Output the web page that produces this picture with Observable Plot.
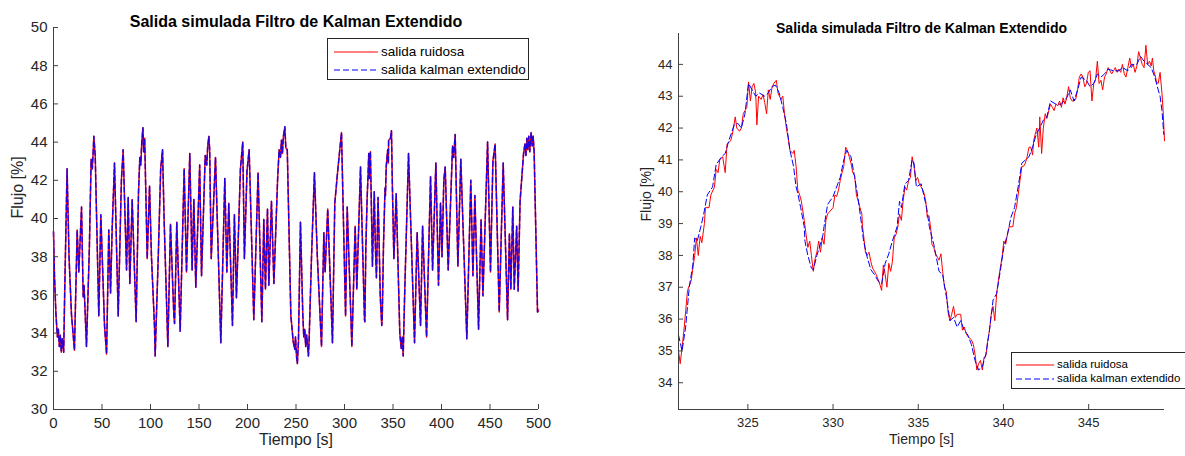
<!DOCTYPE html>
<html>
<head>
<meta charset="utf-8">
<script src="https://cdn.jsdelivr.net/npm/d3@7"></script>
<script src="https://cdn.jsdelivr.net/npm/@observablehq/plot@0.6"></script>
<style>
  body { margin: 0; background: #fff; }
  #wrap { position: relative; width: 1185px; height: 456px; overflow: hidden; font-family: "Liberation Sans", Arial, sans-serif; color: #262626; }
  .panel { position: absolute; top: 0; }
  .legend { position: absolute; border: 1px solid #262626; background: #fff; box-sizing: border-box; }
  .legend svg { position: absolute; overflow: visible; }
  .legend span { position: absolute; line-height: 1; white-space: nowrap; }
</style>
</head>
<body>
<div id="wrap"></div>
<script>
// ---------------- DATA ----------------
const chartTitle = "Salida simulada Filtro de Kalman Extendido";
const xLabel = "Tiempo [s]";
const yLabel = "Flujo [%]";
const seriesNames = ["salida ruidosa", "salida kalman extendido"];

const leftXTicks = [0, 50, 100, 150, 200, 250, 300, 350, 400, 450, 500];
const leftYTicks = [30, 32, 34, 36, 38, 40, 42, 44, 46, 48, 50];
const rightXTicks = [325, 330, 335, 340, 345];
const rightYTicks = [34, 35, 36, 37, 38, 39, 40, 41, 42, 43, 44];

// left panel: full 500 s run (noisy output and EKF estimate coincide at this scale)
const leftSeries = [
  [0,39.3],[1,37.0],[2.5,35.0],[4,33.8],[5,34.2],[6,33.3],[7,33.9],[8,33.0],[9,33.7],[10.5,33.0],
  [11.5,36],[14,42.6],[16,38],[18.5,35],[21.6,33.1],[24.4,39.4],[26.1,37.2],[28.9,40.6],[30.6,35.9],[31.5,36.5],
  [34,33.3],[37,38.5],[38.8,43.1],[40,42.6],[41,43.6],[41.6,44.3],[43,43.3],[46.7,34.9],[48.8,40.2],[52.6,34.4],
  [54.7,32.9],[57,39.4],[58.8,36.1],[60.5,39.5],[62.9,42.9],[66.7,34.9],[70,42],[71.8,43.6],[75.3,37.3],[77,41.1],
  [78.7,36.6],[81.1,41.0],[85.2,34.6],[87.6,41.3],[89,43.2],[90,42.8],[91,44],[92.2,44.75],[93,43.5],[94,44.2],
  [96.6,37.9],[99,41.7],[101,38],[104.1,34.4],[104.8,32.8],[108,38],[110.5,42.6],[112.4,43.6],[114,40],[117.9,33.3],
  [120.6,39.7],[124.1,34.9],[124.8,34.5],[127.1,39.8],[130.6,34.1],[134.7,42.6],[137.1,37.2],[140.5,43.4],[142.9,37.3],[144.7,41.0],
  [146.7,36.4],[150.7,42.8],[152.6,37.0],[156.4,43.3],[158,42.8],[159,43.8],[160.2,44.3],[161,43.6],[162.6,37.9],[167,43.2],
  [172.5,33.5],[176.6,42.1],[178.7,37.2],[180.7,40.8],[184.5,34.4],[186.5,40.2],[188.6,35.85],[192.7,42.6],[195.1,44.0],[196.8,37.9],
  [199.5,42.5],[201.7,43.6],[206.5,34.7],[210.9,42.4],[214.8,34.6],[216.8,39.95],[218.5,36.3],[220.6,40.5],[222,36.5],[224.7,40.9],
  [227.2,36.6],[231,42],[232.6,43.6],[234,43.2],[235,44.1],[236,43.4],[237,44.3],[238.5,44.8],[239.5,43.7],[241,43.6],
  [244.7,34.9],[246,34.2],[247,33.6],[248.7,33.15],[249.5,33.8],[250.5,32.8],[251.4,32.4],[252.5,33.5],[254.6,39.8],[257,35],
  [258,33.8],[259,34.2],[260,33.3],[261,33.9],[262.8,32.8],[263.5,33.6],[266,38],[269,42.4],[272,38],[276.3,33.3],
  [278.7,39.25],[280,37.2],[282.7,40.5],[287.6,33.5],[290,40.8],[293,42.5],[296.9,44.5],[301.1,34.9],[302.8,40.6],[307.6,33.3],
  [311,39.6],[312.7,36.3],[316.5,42.7],[320.6,34.7],[321,34.6],[322,38.5],[323.3,41],[324.3,42.3],[325,43.4],[325.5,42.1],
  [326.7,43.5],[327.5,41.3],[328.8,37.5],[329.6,39.2],[330.7,41.4],[331.8,38.6],[332.9,36.9],[333.3,37.8],[334.6,41.1],[335.5,39.2],
  [336.9,35.9],[338.4,34.4],[338.9,34.8],[340.2,38.6],[341.8,41.6],[342.2,41.2],[343,42.7],[344.5,43.6],[345.2,42.9],[345.5,44.1],
  [347.4,44.2],[348.4,44.6],[349.4,41.6],[350.9,37.9],[353.3,41.3],[357,34],[358.5,33.2],[359.5,33.8],[360.5,32.8],[362,36],
  [366,43.4],[372.2,33.5],[374.9,39.25],[378.4,34.4],[380.5,39.6],[384.6,33.8],[388.7,42.2],[390.8,37.3],[394.2,42.9],[396.9,36.5],
  [399,40.8],[400.5,38],[402.4,42.0],[403.8,42.7],[406.9,37.3],[411.4,43.8],[412.5,43.2],[414.1,44.4],[416.9,37.5],[419.9,43.1],
  [426.1,33.7],[430.2,42.0],[432.4,37.0],[434.4,41.2],[438.2,34.2],[440.8,39.95],[442.7,35.95],[447.5,44.0],[450.5,37.2],[453,43],
  [455.3,43.9],[459.5,35.1],[463.6,42.9],[468.1,34.7],[470,39.2],[471.5,36.3],[473.5,40.6],[475,36.3],[477.5,39.6],[479,36.2],
  [481,40.9],[484.6,43.4],[486,43.9],[487,43.3],[488,44.2],[489,43.6],[490,44.3],[491,43.5],[492.4,44.5],[493.5,43.8],
  [494.5,44.3],[495.5,43.5],[499,35.1],[500,35.2]
];

// right panel: zoom 321 - 349.5 s, noisy output
const rightNoisy = [
  [320.93,35.0],[321.03,34.6],[321.24,35.6],[321.46,36.9],[321.67,37.2],[321.88,38.0],[321.98,38.55],[322.09,38.0],[322.2,38.6],[322.3,38.4],
  [322.45,39.0],[322.51,39.5],[322.72,39.5],[322.83,39.9],[323.04,40.15],[323.14,40.7],[323.25,40.6],[323.35,41.0],[323.52,41.1],[323.67,40.6],
  [323.78,41.5],[323.99,41.6],[324.09,41.8],[324.26,42.35],[324.35,42.0],[324.51,41.9],[324.62,42.0],[324.73,42.45],[324.83,42.55],[324.94,42.65],
  [325.04,43.45],[325.15,42.85],[325.25,43.3],[325.36,43.4],[325.46,43.1],[325.53,42.1],[325.63,43.0],[325.78,42.9],[325.89,43.05],[325.99,42.8],
  [326.1,42.45],[326.2,43.2],[326.31,42.9],[326.41,43.25],[326.52,43.4],[326.67,43.5],[326.77,43.1],[326.94,42.9],[327.05,43.0],[327.15,42.45],
  [327.26,42.0],[327.36,41.7],[327.47,41.3],[327.64,41.2],[327.72,41.3],[327.83,40.8],[327.93,40.05],[328.04,39.9],[328.14,39.7],[328.31,39.1],
  [328.42,38.65],[328.52,38.25],[328.63,38.45],[328.73,38.0],[328.84,37.5],[328.95,37.9],[329.05,38.1],[329.16,38.45],[329.26,38.1],[329.37,38.55],
  [329.47,38.35],[329.58,39.1],[329.68,39.3],[330.0,39.5],[330.11,39.9],[330.21,39.85],[330.32,40.05],[330.42,40.35],[330.53,40.6],[330.63,40.8],
  [330.74,41.4],[330.84,41.3],[330.95,41.1],[331.05,40.9],[331.16,40.6],[331.27,40.5],[331.37,39.9],[331.48,39.7],[331.58,39.5],[331.69,39.3],
  [331.73,38.9],[331.79,38.65],[331.9,38.1],[332.0,38.0],[332.11,38.1],[332.22,37.8],[332.32,37.6],[332.43,37.5],[332.53,37.4],[332.64,37.25],
  [332.74,37.1],[332.85,36.9],[332.95,37.7],[333.06,37.4],[333.16,37.0],[333.27,37.75],[333.38,37.5],[333.48,37.8],[333.59,38.55],[333.69,38.65],
  [333.8,38.9],[333.9,39.3],[334.01,39.1],[334.11,39.7],[334.22,40.15],[334.32,40.05],[334.43,40.35],[334.54,40.45],[334.64,41.1],[334.75,40.8],
  [334.85,40.35],[334.96,40.45],[335.06,40.25],[335.17,40.15],[335.27,40.05],[335.34,39.95],[335.44,39.7],[335.53,39.2],[335.63,39.25],[335.74,38.8],
  [335.8,38.35],[335.91,38.25],[336.01,38.05],[336.12,37.95],[336.22,37.85],[336.33,38.05],[336.43,37.5],[336.54,37.0],[336.65,36.85],[336.75,36.2],
  [336.86,35.95],[336.96,36.15],[337.07,36.4],[337.17,36.05],[337.28,36.15],[337.38,36.15],[337.49,36.15],[337.59,35.65],[337.7,35.75],[337.81,35.55],
  [337.91,35.45],[338.02,35.4],[338.12,35.35],[338.23,35.2],[338.33,34.9],[338.44,34.4],[338.54,34.6],[338.65,34.7],[338.76,34.4],[338.86,34.8],
  [338.97,34.85],[339.07,35.3],[339.18,35.65],[339.28,36.15],[339.39,36.4],[339.49,35.95],[339.6,36.8],[339.7,37.2],[339.81,37.6],[339.92,37.95],
  [340.02,38.45],[340.13,38.35],[340.23,38.65],[340.34,38.9],[340.55,38.9],[340.65,39.3],[340.76,39.5],[340.86,39.9],[340.97,40.35],[341.08,40.8],
  [341.18,40.8],[341.29,40.9],[341.39,41.1],[341.5,41.4],[341.6,41.4],[341.71,41.15],[341.77,41.6],[341.86,41.8],[341.96,42.0],[342.07,41.4],
  [342.13,42.35],[342.24,41.2],[342.34,42.0],[342.45,42.45],[342.55,42.3],[342.66,42.55],[342.76,42.75],[342.87,42.65],[342.97,42.55],[343.08,42.75],
  [343.19,42.7],[343.29,42.85],[343.4,42.65],[343.5,42.95],[343.61,42.75],[343.71,42.95],[343.82,43.3],[343.92,42.95],[344.03,42.85],[344.14,42.85],
  [344.24,42.9],[344.35,43.2],[344.45,43.6],[344.56,43.7],[344.66,43.6],[344.77,43.3],[344.87,43.4],[344.98,43.75],[345.08,43.8],[345.19,42.85],
  [345.3,43.4],[345.4,43.5],[345.51,44.1],[345.61,43.4],[345.72,43.5],[345.82,43.2],[345.93,43.6],[346.03,43.7],[346.14,43.9],[346.24,43.8],
  [346.35,43.7],[346.46,43.8],[346.56,43.9],[346.67,43.75],[346.77,43.85],[346.88,43.75],[346.98,44.0],[347.09,43.7],[347.19,43.6],[347.3,43.9],
  [347.41,44.2],[347.51,43.9],[347.62,44.0],[347.72,43.75],[347.83,43.95],[347.93,44.4],[348.04,44.2],[348.14,44.0],[348.25,43.9],[348.36,44.6],
  [348.46,44.0],[348.57,44.1],[348.67,43.95],[348.74,44.2],[348.82,43.8],[348.93,43.6],[348.97,43.45],[349.08,43.4],[349.19,43.75],[349.3,43.1],
  [349.37,42.55],[349.45,41.6]
];

// right panel: extended Kalman filter estimate
const rightKalman = [
  [320.93,35.5],[321.14,35.0],[321.35,35.75],[321.56,37.0],[321.77,37.7],[321.88,38.55],[322.03,38.45],[322.24,38.9],[322.41,39.3],[322.62,39.9],
  [322.93,40.15],[323.14,40.85],[323.46,41.1],[323.67,41.2],[323.88,41.6],[324.2,42.1],[324.41,42.15],[324.62,42.0],[324.83,42.45],[325.04,43.4],
  [325.25,43.2],[325.46,43.0],[325.68,43.1],[325.99,43.0],[326.2,43.1],[326.41,43.3],[326.62,43.35],[326.84,43.1],[327.05,42.65],[327.26,42.15],
  [327.47,41.3],[327.68,40.8],[327.83,40.15],[327.93,39.95],[328.1,39.5],[328.31,38.9],[328.35,38.45],[328.52,38.0],[328.73,37.6],[328.84,37.55],
  [329.05,38.0],[329.26,38.35],[329.41,38.65],[329.47,38.9],[329.68,39.6],[330.0,39.85],[330.21,40.15],[330.42,40.45],[330.63,41.0],[330.8,41.3],
  [331.05,41.1],[331.27,40.45],[331.48,39.75],[331.69,38.9],[331.79,38.45],[332.0,37.95],[332.22,37.55],[332.43,37.4],[332.64,37.2],[332.85,37.1],
  [333.06,37.75],[333.27,38.05],[333.48,38.45],[333.76,38.9],[333.9,39.7],[334.01,39.5],[334.22,40.25],[334.43,40.35],[334.64,41.0],[334.75,40.9],
  [334.89,40.15],[335.17,40.25],[335.49,39.5],[335.65,38.9],[335.91,38.35],[336.22,37.5],[336.43,37.4],[336.65,36.7],[336.86,35.95],[337.07,36.05],
  [337.28,35.75],[337.49,35.95],[337.7,35.65],[337.91,35.5],[338.12,35.2],[338.33,34.7],[338.54,34.4],[338.76,34.5],[338.97,34.9],[339.18,35.65],
  [339.39,36.6],[339.6,36.8],[339.81,37.5],[340.02,38.25],[340.23,38.65],[340.44,39.2],[340.65,39.5],[340.86,40.15],[341.08,40.9],[341.29,41.0],
  [341.5,41.1],[341.71,41.4],[341.92,41.8],[342.13,42.0],[342.34,42.25],[342.55,42.35],[342.76,42.85],[343.08,42.75],[343.4,42.75],[343.71,42.95],
  [343.92,43.2],[344.14,42.85],[344.35,43.2],[344.56,43.6],[344.87,43.5],[345.08,43.3],[345.3,43.4],[345.51,43.7],[345.72,43.6],[345.93,43.7],
  [346.14,43.85],[346.46,43.8],[346.77,43.8],[346.98,43.9],[347.3,43.8],[347.51,44.0],[347.83,44.0],[348.04,44.25],[348.25,44.1],[348.46,44.0],
  [348.67,43.9],[348.88,43.6],[349.08,43.2],[349.19,43.0],[349.3,42.55],[349.41,41.8]
];

// ---------------- STYLE ----------------
const RED = "#ff0000", BLUE = "#0000ff", AXIS = "#404040", TXT = "#262626";
const FONT = "'Liberation Sans', Arial, sans-serif";

const toRows = arr => arr.map(([t, v]) => ({t, v}));

function panel({width, height, mt, mr, mb, ml, xDomain, yDomain, xTicks, yTicks, series, tick, label, titleSize, titleDy, xlDy, ylDx, dash, sw}) {
  const innerH = height - mt - mb, innerW = width - ml - mr;
  const marks = [];
  series.forEach(s => {
    marks.push(Plot.line(toRows(s.data), {x: "t", y: "v", stroke: s.color, strokeWidth: sw, strokeDasharray: s.dashed ? dash : null, strokeOpacity: s.opacity ?? 1}));
  });
  marks.push(
    Plot.ruleY([yDomain[0]], {stroke: AXIS, strokeWidth: 1}),
    Plot.ruleX([xDomain[0]], {stroke: AXIS, strokeWidth: 1}),
    Plot.tickX(xTicks, {x: d => d, insetTop: innerH - 5, stroke: AXIS}),
    Plot.tickY(yTicks, {y: d => d, insetRight: innerW - 5, stroke: AXIS}),
    Plot.axisX({ticks: xTicks, tickSize: 0, tickPadding: 8, label: null, fontSize: tick, tickFormat: d => String(d)}),
    Plot.axisY({ticks: yTicks, tickSize: 0, tickPadding: 6, label: null, fontSize: tick, tickFormat: d => String(d)}),
    Plot.text([xLabel], {text: d => d, frameAnchor: "bottom", dy: xlDy, fontSize: label, fill: TXT}),
    Plot.text([yLabel], {text: d => d, frameAnchor: "left", dx: ylDx, rotate: -90, fontSize: label, fill: TXT}),
    Plot.text([chartTitle], {text: d => d, frameAnchor: "top", dy: titleDy, fontSize: titleSize, fontWeight: "bold", fill: "#000"})
  );
  return Plot.plot({
    width, height, marginTop: mt, marginRight: mr, marginBottom: mb, marginLeft: ml,
    style: {fontFamily: FONT, color: TXT, background: "transparent", overflow: "visible"},
    x: {domain: xDomain},
    y: {domain: yDomain},
    marks
  });
}

const wrap = document.getElementById("wrap");

const left = panel({
  width: 600, height: 456, mt: 27, mr: 62, mb: 47, ml: 53,
  xDomain: [0, 500], yDomain: [30, 50], xTicks: leftXTicks, yTicks: leftYTicks,
  series: [
    {data: leftSeries, color: RED, dashed: false},
    {data: leftSeries, color: BLUE, dashed: true, opacity: 0.85}
  ],
  tick: 15, label: 16, titleSize: 16, titleDy: -12, xlDy: 35, ylDx: -36, dash: "5,3", sw: 1.5
});
left.classList.add("panel");
left.style.left = "0px";
wrap.appendChild(left);

const right = panel({
  width: 585, height: 456, mt: 33, mr: 21, mb: 47, ml: 78,
  xDomain: [320.93, 349.45], yDomain: [33.16, 44.97], xTicks: rightXTicks, yTicks: rightYTicks,
  series: [
    {data: rightNoisy, color: RED, dashed: false},
    {data: rightKalman, color: BLUE, dashed: true}
  ],
  tick: 13, label: 14, titleSize: 14, titleDy: -10, xlDy: 34, ylDx: -32, dash: "6,3", sw: 1
});
right.classList.add("panel");
right.style.left = "600px";
wrap.appendChild(right);

// ---------------- LEGENDS ----------------
function legend({left, top, width, height, rows, lineX1, lineX2, textX, fontSize}) {
  const box = document.createElement("div");
  box.className = "legend";
  Object.assign(box.style, {left: left + "px", top: top + "px", width: width + "px", height: height + "px"});
  rows.forEach((r, i) => {
    const svg = d3.create("svg").attr("width", lineX2 - lineX1).attr("height", 2)
      .style("left", lineX1 + "px").style("top", (r.y - 1) + "px");
    svg.append("line").attr("x1", 0).attr("x2", lineX2 - lineX1).attr("y1", 1).attr("y2", 1)
      .attr("stroke", r.color).attr("stroke-width", 1).attr("stroke-dasharray", r.dash || null);
    box.appendChild(svg.node());
    const span = document.createElement("span");
    span.textContent = seriesNames[i];
    Object.assign(span.style, {left: textX + "px", top: (r.y - fontSize / 2) + "px", fontSize: fontSize + "px", color: "#000"});
    box.appendChild(span);
  });
  wrap.appendChild(box);
}

legend({left: 327, top: 38, width: 202, height: 42, lineX1: 6, lineX2: 50, textX: 53, fontSize: 13.5,
  rows: [{y: 13, color: RED}, {y: 31, color: BLUE, dash: "6,3"}]});
legend({left: 1011, top: 352, width: 176, height: 37, lineX1: 4, lineX2: 42, textX: 45, fontSize: 11.5,
  rows: [{y: 12, color: RED}, {y: 26, color: BLUE, dash: "6,3"}]});
</script>
</body>
</html>
